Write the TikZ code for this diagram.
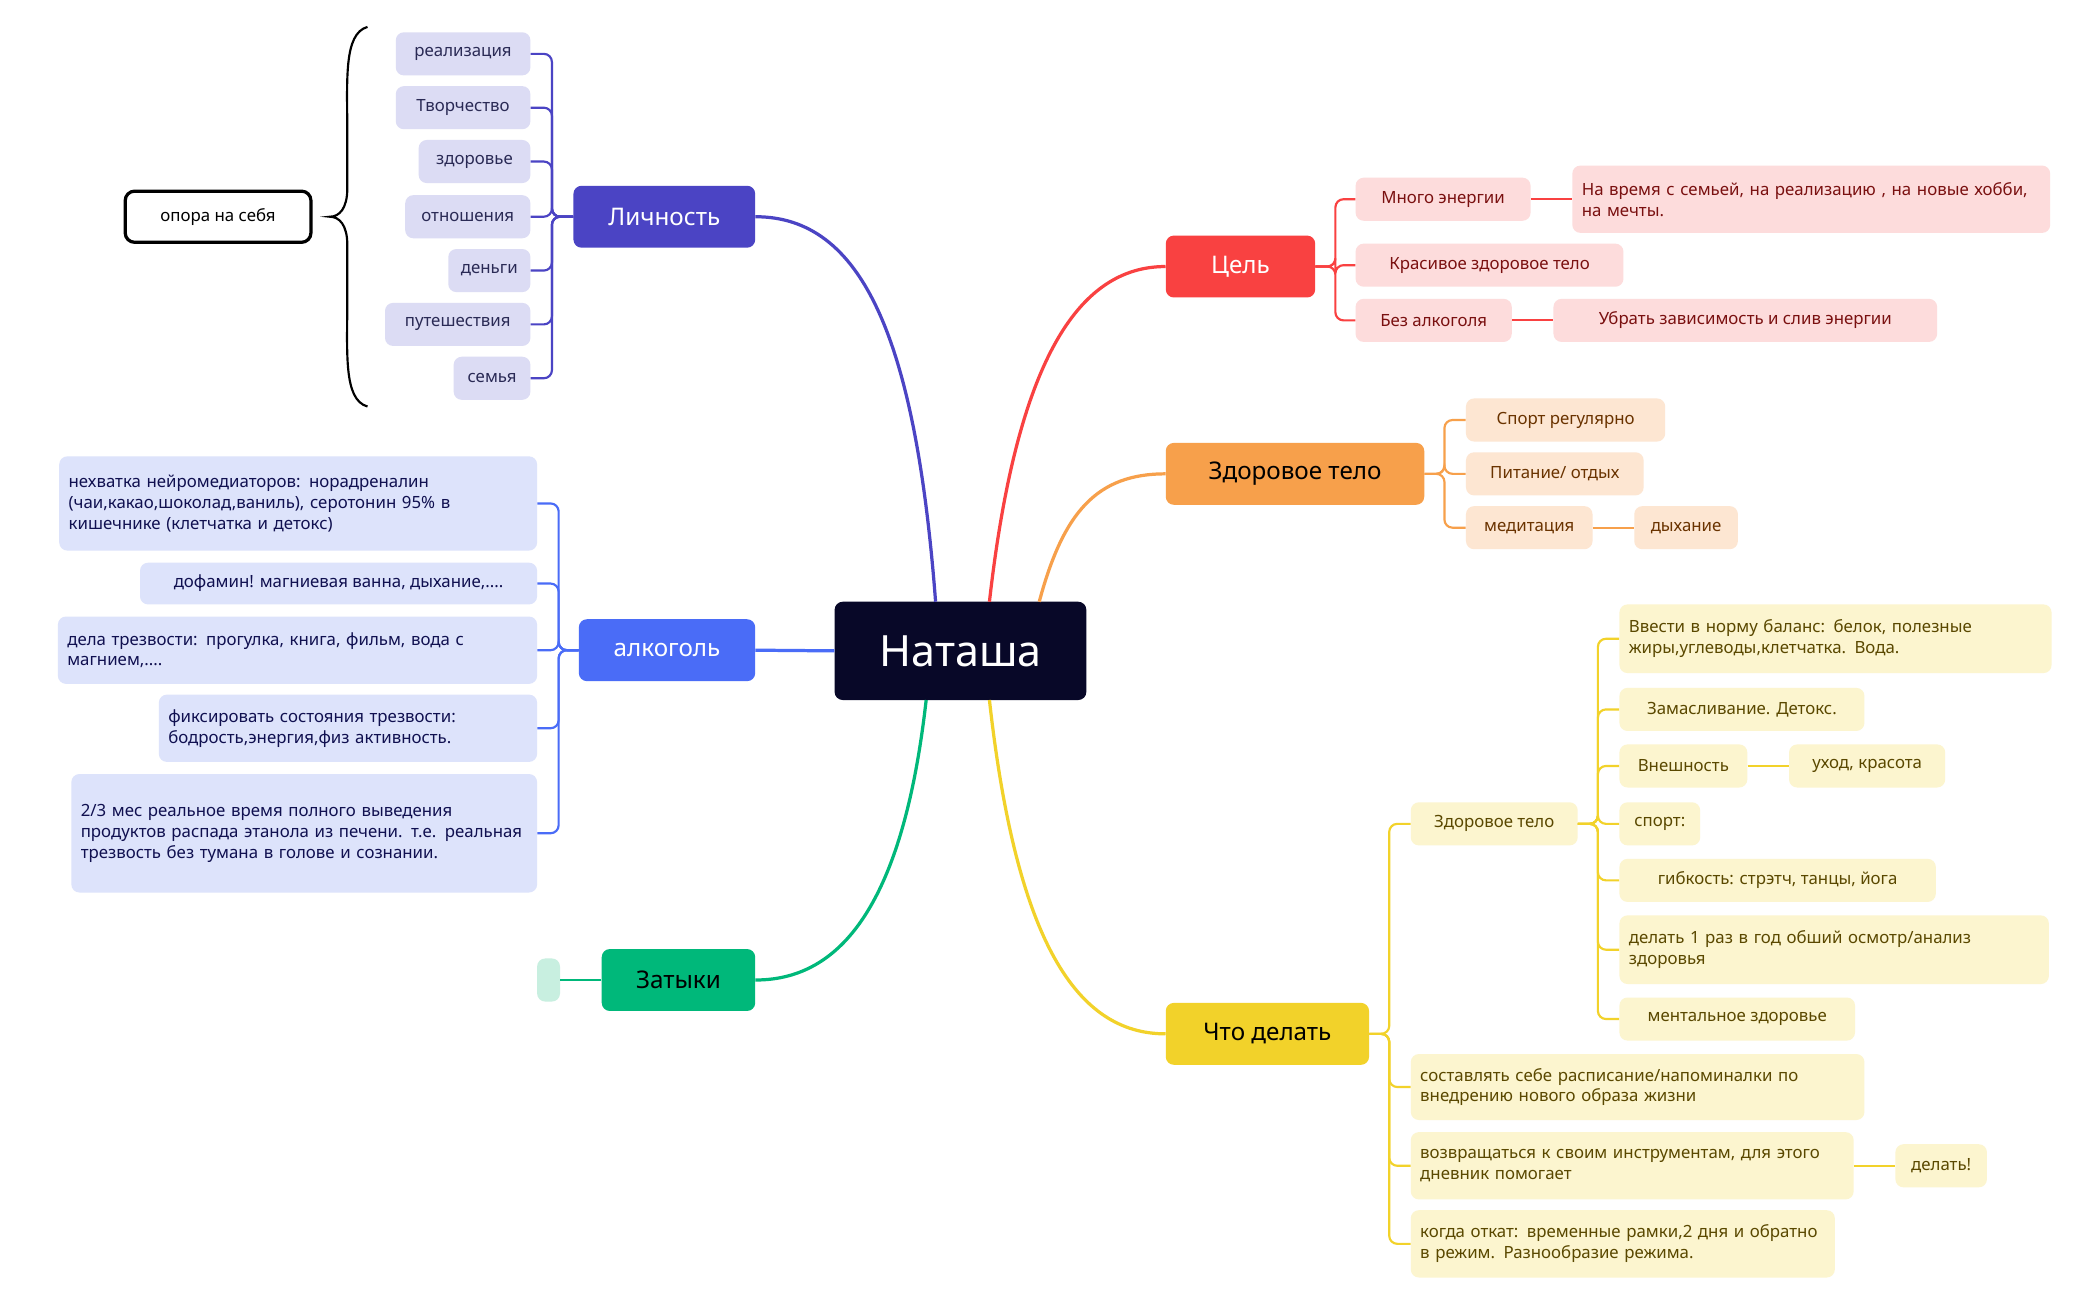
\documentclass[tikz,border=0pt]{standalone}
\usepackage{fontspec}
\setmainfont{Noto Sans}
\begin{document}
\begin{tikzpicture}[x=1pt,y=-1pt,
 box/.style={rounded corners=6,inner sep=0pt,font=\fontsize{12.5}{15.5}\selectfont},
 lp/.style={box,fill=lpf,text=lpt},
 ap/.style={box,fill=apf,text=apt,align=left},
 rp/.style={box,fill=rpf,text=rpt,align=left},
 op/.style={box,fill=opf,text=opt},
 yp/.style={box,fill=ypf,text=ypt,align=left},
 main/.style={rounded corners=6,inner sep=0pt,font=\fontsize{18}{22}\selectfont\bfseries},
 br/.style={line width=1.6pt,rounded corners=6},
 mc/.style={line width=2.4pt}]
\definecolor{lpf}{HTML}{DCDCF4}\definecolor{lpt}{HTML}{2A2A55}
\definecolor{apf}{HTML}{DDE3FB}\definecolor{apt}{HTML}{101050}
\definecolor{rpf}{HTML}{FDDCDC}\definecolor{rpt}{HTML}{7A1010}
\definecolor{opf}{HTML}{FDE6D2}\definecolor{opt}{HTML}{6A3300}
\definecolor{ypf}{HTML}{FCF5CF}\definecolor{ypt}{HTML}{5A4800}
\definecolor{cL}{HTML}{4B44C4}\definecolor{cA}{HTML}{4A6CF7}\definecolor{cG}{HTML}{00B87A}
\definecolor{cR}{HTML}{F94141}\definecolor{cO}{HTML}{F7A04B}\definecolor{cY}{HTML}{F2D22A}
\definecolor{cC}{HTML}{080828}\definecolor{gpf}{HTML}{C8EFE0}
\useasboundingbox (0,0) rectangle (1560,965);
\fill[white] (0,0) rectangle (1560,965);
\newcommand\bx[7]{\node[#7,minimum width={#4-#2},minimum height={#5-#3}] (#1) at ({(#2+#4)/2},{(#3+#5)/2}) {#6};}
\newcommand\tb[7]{\node[#7,minimum width={#4-#2},minimum height={#5-#3},text width={#4-#2-14}] (#1) at ({(#2+#4)/2},{(#3+#5)/2}) {#6};}
% center
\bx{c}{620}{447}{807}{520}{\fontsize{32}{36}\selectfont\bfseries Наташа}{rounded corners=6,fill=cC,inner sep=0,text=white}
% main branches
\bx{L}{426}{138}{561}{184}{Личность}{main,fill=cL,text=white}
\bx{A}{430}{460}{561}{506}{алкоголь}{main,fill=cA,text=white}
\bx{G}{447}{705}{561}{751}{Затыки}{main,fill=cG,text=black}
\bx{R}{866}{175}{977}{221}{Цель}{main,fill=cR,text=white}
\bx{O}{866}{329}{1058}{375}{Здоровое тело}{main,fill=cO,text=black}
\bx{Y}{866}{745}{1017}{791}{Что делать}{main,fill=cY,text=black}
\draw[mc,cL] (695,447) .. controls (680,250) and (640,161) .. (L.east);
\draw[mc,cA] (c.west) -- (A.east);
\draw[mc,cG] (688,520) .. controls (670,680) and (620,728) .. (G.east);
\draw[mc,cR] (735,447) .. controls (755,270) and (800,198) .. (R.west);
\draw[mc,cO] (772,447) .. controls (790,380) and (815,352) .. (O.west);
\draw[mc,cY] (735,520) .. controls (755,700) and (800,768) .. (Y.west);
% Личность leaves
\bx{l1}{294}{24}{394}{56}{реализация}{lp}
\bx{l2}{294}{64}{394}{96}{Творчество}{lp}
\bx{l3}{311}{104}{394}{136}{здоровье}{lp}
\bx{l4}{301}{145}{394}{177}{отношения}{lp}
\bx{l5}{333}{185}{394}{217}{деньги}{lp}
\bx{l6}{286}{225}{394}{257}{путешествия}{lp}
\bx{l7}{337}{265}{394}{297}{семья}{lp}
\foreach \n in {l1,l2,l3,l4,l5,l6,l7}{\draw[br,cL] (L.west) -- (410,161) |- (\n.east);}
\draw[line width=1.6pt] (273,20) .. controls (255,25) and (258,60) .. (258,100) -- (258,140) .. controls (258,155) and (252,161) .. (245,161) .. controls (252,161) and (258,167) .. (258,182) -- (258,222) .. controls (258,262) and (255,297) .. (273,302);
\bx{op}{93}{142}{231}{180}{опора на себя}{box,draw=black,line width=2.4pt,rounded corners=7,fill=white}
% алкоголь leaves
\tb{a1}{44}{339}{399}{409}{нехватка нейромедиаторов: норадреналин (чаи,какао,шоколад,ваниль), серотонин 95\% в кишечнике (клетчатка и детокс)}{ap}
\bx{a2}{104}{418}{399}{449}{дофамин! магниевая ванна, дыхание,....}{ap}
\tb{a3}{43}{458}{399}{508}{дела трезвости: прогулка, книга, фильм, вода с магнием,....}{ap}
\tb{a4}{118}{516}{399}{566}{фиксировать состояния трезвости: бодрость,энергия,физ активность.}{ap}
\tb{a5}{53}{575}{399}{663}{2/3 мес реальное время полного выведения продуктов распада этанола из печени. т.е. реальная трезвость без тумана в голове и сознании.}{ap}
\foreach \n in {a1,a2,a3,a4,a5}{\draw[br,cA] (A.west) -- (415,483) |- (\n.east);}
% Затыки
\bx{g1}{399}{712}{416}{744}{}{box,fill=gpf}
\draw[br,cG] (G.west) -- (g1.east);
% Цель leaves
\bx{r1}{1007}{132}{1137}{164}{Много энергии}{rp}
\tb{r1a}{1168}{123}{1523}{173}{На время с семьей, на реализацию , на новые хобби, на мечты.}{rp}
\bx{r2}{1007}{181}{1206}{213}{Красивое здоровое тело}{rp}
\bx{r3}{1007}{222}{1123}{254}{Без алкоголя}{rp}
\bx{r3a}{1154}{222}{1439}{254}{Убрать зависимость и слив энергии}{rp}
\foreach \n in {r1,r2,r3}{\draw[br,cR] (R.east) -- (992,198) |- (\n.west);}
\draw[br,cR] (r1.east) -- (r1a.west|-r1.east);
\draw[br,cR] (r3.east) -- (r3a.west);
% Здоровое тело leaves
\bx{o1}{1089}{296}{1237}{328}{Спорт регулярно}{op}
\bx{o2}{1089}{336}{1221}{368}{Питание/ отдых}{op}
\bx{o3}{1089}{376}{1183}{408}{медитация}{op}
\bx{o3a}{1214}{376}{1291}{408}{дыхание}{op}
\foreach \n in {o1,o2,o3}{\draw[br,cO] (O.east) -- (1073,352) |- (\n.west);}
\draw[br,cO] (o3.east) -- (o3a.west);
% Что делать leaves
\bx{y1}{1048}{596}{1172}{628}{Здоровое тело}{yp}
\tb{y11}{1203}{449}{1524}{500}{Ввести в норму баланс: белок, полезные жиры,углеводы,клетчатка. Вода.}{yp}
\bx{y12}{1203}{511}{1385}{543}{Замасливание. Детокс.}{yp}
\bx{y13}{1203}{553}{1298}{585}{Внешность}{yp}
\bx{y13a}{1329}{553}{1445}{585}{уход, красота}{yp}
\bx{y14}{1203}{596}{1263}{628}{спорт:}{yp}
\bx{y15}{1203}{638}{1438}{670}{гибкость: стрэтч, танцы, йога}{yp}
\tb{y16}{1203}{680}{1522}{731}{делать 1 раз в год обший осмотр/анализ здоровья}{yp}
\bx{y17}{1203}{741}{1378}{773}{ментальное здоровье}{yp}
\tb{y2}{1048}{783}{1385}{832}{составлять себе расписание/напоминалки по внедрению нового образа жизни}{yp}
\tb{y3}{1048}{841}{1377}{891}{возвращаться к своим инструментам, для этого дневник помогает}{yp}
\bx{y3a}{1408}{850}{1476}{882}{делать!}{yp}
\tb{y4}{1048}{899}{1363}{949}{когда откат: временные рамки,2 дня и обратно в режим. Разнообразие режима.}{yp}
\foreach \n in {y1,y2,y3,y4}{\draw[br,cY] (Y.east) -- (1032,768) |- (\n.west);}
\foreach \n in {y11,y12,y13,y14,y15,y16,y17}{\draw[br,cY] (y1.east) -- (1187,612) |- (\n.west);}
\draw[br,cY] (y13.east) -- (y13a.west);
\draw[br,cY] (y3.east) -- (y3a.west|-y3.east);
\end{tikzpicture}
\end{document}
